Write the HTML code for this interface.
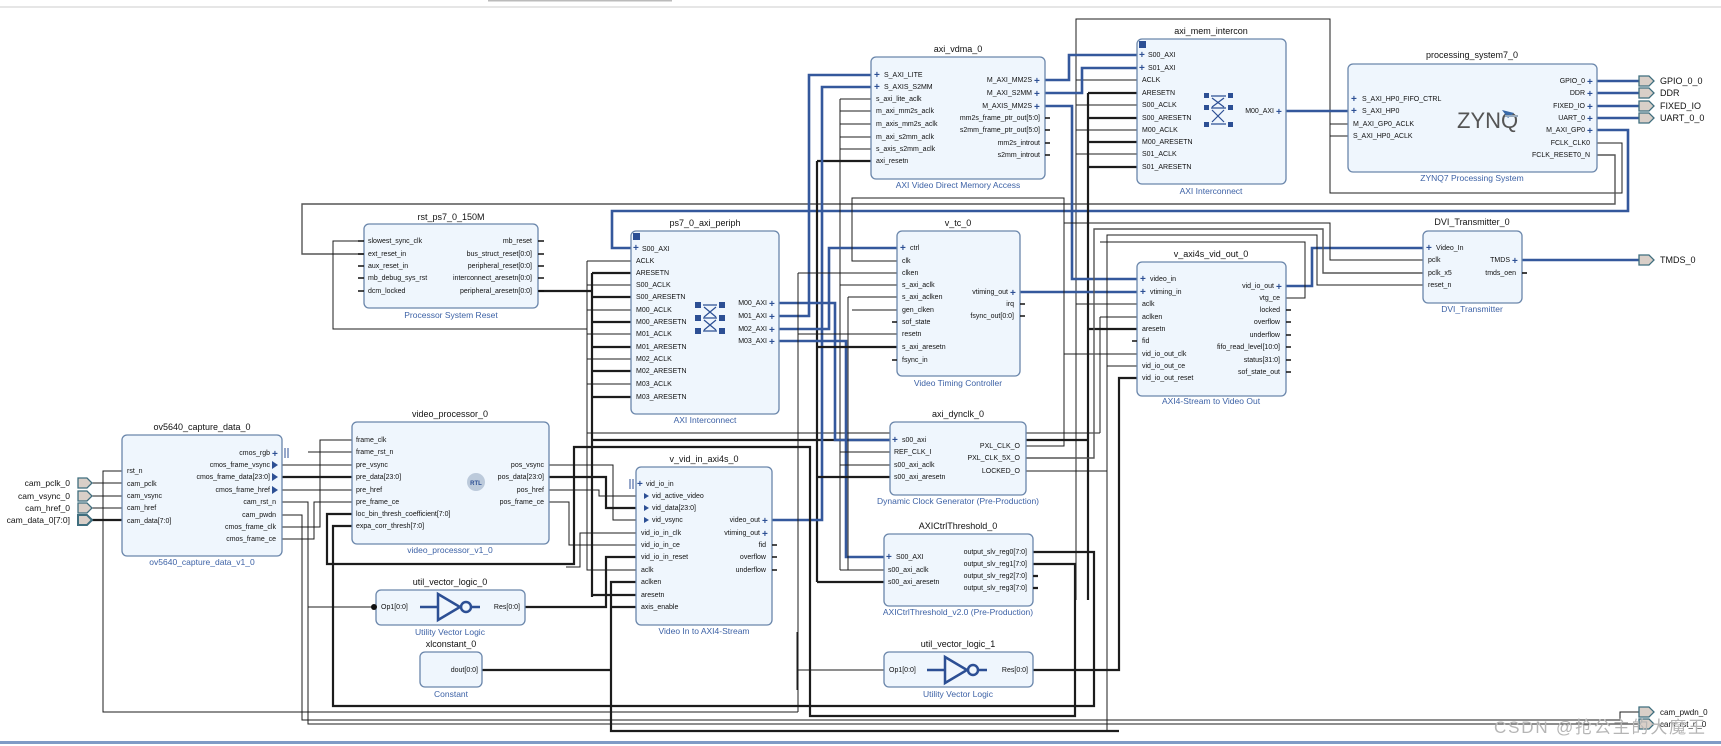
<!DOCTYPE html>
<html><head><meta charset="utf-8"><style>
html,body{margin:0;padding:0;background:#fff;}
svg{display:block}
.b{fill:#eff6fd;stroke:#6a86ab;stroke-width:1.3}
.t{font:9px "Liberation Sans",sans-serif;fill:#111;text-anchor:middle}
.s{font:8.5px "Liberation Sans",sans-serif;fill:#3d62a6;text-anchor:middle}
.p{font:7px "Liberation Sans",sans-serif;fill:#111}
.r{text-anchor:end}
.w{stroke:#1c1c1c;stroke-width:1;fill:none}
.g{stroke:#555;stroke-width:1.4;fill:none}
.W{stroke:#1c1c1c;stroke-width:2.2;fill:none}
.bl{stroke:#34589c;stroke-width:2.6;fill:none}
.pl{font:bold 10px "Liberation Sans",sans-serif;fill:#2c4f94}
.ext{fill:#d9cfc8;stroke:#3f6e7e;stroke-width:1.3}
.st{stroke:#111;stroke-width:1.6;fill:none}
.ic{fill:#2c4f94}
</style></head><body>
<svg width="1721" height="746" viewBox="0 0 1721 746" xmlns="http://www.w3.org/2000/svg">
<rect x="0" y="0" width="1721" height="746" fill="#fff"/>
<line x1="0" y1="7" x2="1721" y2="7" stroke="#ddd" stroke-width="1.5"/>
<rect x="488" y="0" width="184" height="1.5" fill="#bbb"/>
<rect x="0" y="741" width="1721" height="3" fill="#7f9bc6"/>

<g>
<path class="w" d="M1596,143 H1622 V193 H1330 V19 H1076 V600"/>
<path class="g" d="M1596,155 H1615 V204 H302 V254 H364"/>
<path class="bl" d="M1597,130 H1628 V211 H612 V248 H631"/>
<path class="w" d="M364,241 H333 V329 H587"/>
<path class="w" d="M587,261 V440 M587,261 H631 M587,285 H631 M587,310 H631 M587,334 H631 M587,359 H631 M587,384 H631"/>
<path class="W" d="M538,291 H592 M592,273 V597 M592,273 H631 M592,297 H631 M592,322 H631 M592,347 H631 M592,371 H631 M592,397 H631"/>
<path class="w" d="M587,433 H1100"/>
<path class="W" d="M592,440 H1088"/>
<path class="w" d="M840,99 V570 M840,99 H871 M840,111 H871 M840,124 H871 M840,137 H871 M840,149 H871"/>
<path class="W" d="M817,161 V582 M817,161 H871"/>
<path class="w" d="M1076,80 H1137 M1076,105 H1137 M1076,130 H1137 M1076,154 H1137"/>
<path class="W" d="M1088,93 V600 M1088,93 H1137 M1088,118 H1137 M1088,142 H1137 M1088,167 H1137"/>
<path class="w" d="M1330,124 H1348 M1330,136 H1348 M1330,124 V193"/>
<path class="bl" d="M1045,80 H1069 V55 H1137"/>
<path class="bl" d="M1045,93 H1082 V68 H1137"/>
<path class="bl" d="M1045,106 H1072 V279 H1137"/>
<path class="bl" d="M1286,111 H1348"/>
<path class="bl" d="M779,303 H835 V440 H890"/>
<path class="bl" d="M779,316 H809 V75 H871"/>
<path class="bl" d="M779,329 H829 V248 H897"/>
<path class="bl" d="M779,341 H846 V557 H884"/>
<path class="bl" d="M772,520 H822 V87 H871"/>
<path class="bl" d="M1020,292 H1137"/>
<path class="w" d="M1026,446 H1064 V198 H852 V261 H897"/>
<path class="w" d="M798,273 V712 M798,273 H897 M798,334 H897"/>
<path class="w" d="M840,285 H897 M848,297 H897 M848,297 V570 M852,310 H897"/>
<path class="W" d="M817,347 H897"/>
<path class="w" d="M1076,304 H1137 M1100,317 H1137 M1100,317 V433"/>
<path class="W" d="M1088,329 H1137"/>
<path class="w" d="M1064,354 H1137 M1107,366 H1137"/>
<path class="W" d="M1033,670 H1119 V378 H1137"/>
<path class="bl" d="M1286,286 H1312 V248 H1423"/>
<path class="w" d="M1423,260 H1330 V223 H1064"/>
<path class="g" d="M1423,273 H1323 V229 H1094 V458 H1026"/>
<path class="w" d="M1423,285 H1317 V235 H1107 V471 H1026"/>
<path class="w" d="M1286,298 H1305 V242 H1100"/>
<path class="bl" d="M1522,260 H1639"/>
<path class="bl" d="M1597,81 H1639 M1597,93 H1639 M1597,106 H1639 M1597,118 H1639"/>
<path class="w" d="M840,452 H890 M840,465 H890 M840,570 H884"/>
<path class="W" d="M817,477 H890 M817,582 H884"/>
<path class="W" d="M1033,552 H1094 V706 H333 V526 H352"/>
<path class="W" d="M1033,564 H1075 V716 H810 V447 H574 V564 H327 V514 H352"/>
<path class="w" d="M282,465 H352 M282,490 H352"/>
<path class="W" d="M282,477 H352"/>
<path class="w" d="M282,527 H320 V440 H352 M282,539 H314 V502 H352"/>
<path class="w" d="M282,502 H308 V724 H1639 M308,452 H352 M308,607 H376"/>
<path class="w" d="M282,515 H302 V720 H1620 V712 H1639"/>
<path class="w" d="M122,471 H103 V712 H798"/>
<path class="w" d="M91,483 H122 M91,496 H122 M91,508 H122"/>
<path class="W" d="M91,520 H122"/>
<path class="w" d="M549,465 H613 V520 H636 M549,490 H599 V496 H636 M549,502 H569 V545 H636"/>
<path class="W" d="M549,477 H606 V508 H636"/>
<path class="W" d="M525,607 H606 V557 H636"/>
<path class="w" d="M636,533 H580 V567 H566"/>
<path class="w" d="M587,440 V570 H636"/>
<path class="W" d="M592,595 H636"/>
<path class="W" d="M482,670 H611 V582 H636 M611,607 H636 M611,670 V731 H1119"/>
<path class="w" d="M797,632 V690 M797,670 H884"/>
<path class="w" d="M1107,366 V731"/>
</g>

<rect class="b" x="364" y="224" width="174" height="84" rx="5"/>
<text class="t" x="451" y="220">rst_ps7_0_150M</text>
<text class="s" x="451" y="318">Processor System Reset</text>
<path class="st" d="M358,241h6 M358,254h6 M358,266h6 M358,278h6 M358,291h6 M538,241h6 M538,254h6 M538,266h6 M538,278h6 M538,291h6"/>
<text class="p" x="368" y="243">slowest_sync_clk</text>
<text class="p" x="368" y="256">ext_reset_in</text>
<text class="p" x="368" y="268">aux_reset_in</text>
<text class="p" x="368" y="280">mb_debug_sys_rst</text>
<text class="p" x="368" y="293">dcm_locked</text>
<text class="p r" x="532" y="243">mb_reset</text>
<text class="p r" x="532" y="256">bus_struct_reset[0:0]</text>
<text class="p r" x="532" y="268">peripheral_reset[0:0]</text>
<text class="p r" x="532" y="280">interconnect_aresetn[0:0]</text>
<text class="p r" x="532" y="293">peripheral_aresetn[0:0]</text>

<rect class="b" x="631" y="231" width="148" height="183" rx="5"/>
<text class="t" x="705" y="226">ps7_0_axi_periph</text>
<text class="s" x="705" y="423">AXI Interconnect</text>
<rect x="633" y="233" width="7" height="7" class="ic"/>
<text class="pl" x="633" y="251">+</text>
<text class="p" x="642" y="251">S00_AXI</text>
<text class="p" x="636" y="263">ACLK</text>
<text class="p" x="636" y="275">ARESETN</text>
<text class="p" x="636" y="287">S00_ACLK</text>
<text class="p" x="636" y="299">S00_ARESETN</text>
<text class="p" x="636" y="312">M00_ACLK</text>
<text class="p" x="636" y="324">M00_ARESETN</text>
<text class="p" x="636" y="336">M01_ACLK</text>
<text class="p" x="636" y="349">M01_ARESETN</text>
<text class="p" x="636" y="361">M02_ACLK</text>
<text class="p" x="636" y="373">M02_ARESETN</text>
<text class="p" x="636" y="386">M03_ACLK</text>
<text class="p" x="636" y="399">M03_ARESETN</text>
<text class="p r" x="767" y="305">M00_AXI</text><text class="pl" x="769" y="307">+</text>
<text class="p r" x="767" y="318">M01_AXI</text><text class="pl" x="769" y="320">+</text>
<text class="p r" x="767" y="331">M02_AXI</text><text class="pl" x="769" y="333">+</text>
<text class="p r" x="767" y="343">M03_AXI</text><text class="pl" x="769" y="345">+</text>
<g class="ic"><rect x="695" y="302" width="6" height="6"/><rect x="719" y="302" width="6" height="6"/><rect x="695" y="315" width="6" height="6"/><rect x="719" y="315" width="6" height="6"/><rect x="695" y="328" width="6" height="6"/><rect x="719" y="328" width="6" height="6"/></g>
<path d="M703,305h14 M703,318h14 M703,331h14 M704,307l12,10 M716,307l-12,10 M704,320l12,10 M716,320l-12,10" stroke="#2c4f94" stroke-width="1.2"/>

<rect class="b" x="871" y="57" width="174" height="122" rx="5"/>
<text class="t" x="958" y="52">axi_vdma_0</text>
<text class="s" x="958" y="188">AXI Video Direct Memory Access</text>
<text class="pl" x="874" y="78">+</text><text class="p" x="884" y="77">S_AXI_LITE</text>
<text class="pl" x="874" y="90">+</text><text class="p" x="884" y="89">S_AXIS_S2MM</text>
<text class="p" x="876" y="101">s_axi_lite_aclk</text>
<text class="p" x="876" y="113">m_axi_mm2s_aclk</text>
<text class="p" x="876" y="126">m_axis_mm2s_aclk</text>
<text class="p" x="876" y="139">m_axi_s2mm_aclk</text>
<text class="p" x="876" y="151">s_axis_s2mm_aclk</text>
<text class="p" x="876" y="163">axi_resetn</text>
<text class="p r" x="1032" y="82">M_AXI_MM2S</text><text class="pl" x="1034" y="84">+</text>
<text class="p r" x="1032" y="95">M_AXI_S2MM</text><text class="pl" x="1034" y="97">+</text>
<text class="p r" x="1032" y="108">M_AXIS_MM2S</text><text class="pl" x="1034" y="110">+</text>
<text class="p r" x="1040" y="120">mm2s_frame_ptr_out[5:0]</text>
<text class="p r" x="1040" y="132">s2mm_frame_ptr_out[5:0]</text>
<text class="p r" x="1040" y="145">mm2s_introut</text>
<text class="p r" x="1040" y="157">s2mm_introut</text>
<path class="st" d="M1045,118h5 M1045,130h5 M1045,143h5 M1045,155h5"/>

<rect class="b" x="1137" y="39" width="149" height="145" rx="5"/>
<text class="t" x="1211" y="34">axi_mem_intercon</text>
<text class="s" x="1211" y="194">AXI Interconnect</text>
<rect x="1139" y="41" width="7" height="7" class="ic"/>
<text class="pl" x="1139" y="58">+</text><text class="p" x="1148" y="57">S00_AXI</text>
<text class="pl" x="1139" y="71">+</text><text class="p" x="1148" y="70">S01_AXI</text>
<text class="p" x="1142" y="82">ACLK</text>
<text class="p" x="1142" y="95">ARESETN</text>
<text class="p" x="1142" y="107">S00_ACLK</text>
<text class="p" x="1142" y="120">S00_ARESETN</text>
<text class="p" x="1142" y="132">M00_ACLK</text>
<text class="p" x="1142" y="144">M00_ARESETN</text>
<text class="p" x="1142" y="156">S01_ACLK</text>
<text class="p" x="1142" y="169">S01_ARESETN</text>
<text class="p r" x="1274" y="113">M00_AXI</text><text class="pl" x="1276" y="115">+</text>
<g class="ic"><rect x="1204" y="93" width="5" height="5"/><rect x="1228" y="93" width="5" height="5"/><rect x="1204" y="105" width="5" height="5"/><rect x="1228" y="105" width="5" height="5"/><rect x="1204" y="122" width="5" height="5"/><rect x="1228" y="122" width="5" height="5"/></g>
<path d="M1211,96h15 M1211,108h15 M1211,124h15 M1212,98l12,9 M1224,98l-12,9 M1212,110l12,12 M1224,110l-12,12" stroke="#2c4f94" stroke-width="1.2"/>

<rect class="b" x="1348" y="64" width="249" height="108" rx="5"/>
<text class="t" x="1472" y="58">processing_system7_0</text>
<text class="s" x="1472" y="181">ZYNQ7 Processing System</text>
<text class="pl" x="1351" y="102">+</text><text class="p" x="1362" y="101">S_AXI_HP0_FIFO_CTRL</text>
<text class="pl" x="1351" y="114">+</text><text class="p" x="1362" y="113">S_AXI_HP0</text>
<text class="p" x="1353" y="126">M_AXI_GP0_ACLK</text>
<text class="p" x="1353" y="138">S_AXI_HP0_ACLK</text>
<text x="1457" y="128" style="font:22px 'Liberation Sans',sans-serif;fill:#555">ZYNQ</text>
<path d="M1502,110 l12,3 l-6,5z" fill="#3a6aa8"/><path d="M1505,116 h13" stroke="#9ab" stroke-width="2"/>
<text class="p r" x="1585" y="83">GPIO_0</text><text class="pl" x="1587" y="85">+</text>
<text class="p r" x="1585" y="95">DDR</text><text class="pl" x="1587" y="97">+</text>
<text class="p r" x="1585" y="108">FIXED_IO</text><text class="pl" x="1587" y="110">+</text>
<text class="p r" x="1585" y="120">UART_0</text><text class="pl" x="1587" y="122">+</text>
<text class="p r" x="1585" y="132">M_AXI_GP0</text><text class="pl" x="1587" y="134">+</text>
<text class="p r" x="1590" y="145">FCLK_CLK0</text>
<text class="p r" x="1590" y="157">FCLK_RESET0_N</text>

<g>
<path class="ext" d="M1639,76h10l5,5l-5,5h-10z"/><text class="p" x="1660" y="84" style="font-size:9px">GPIO_0_0</text>
<path class="ext" d="M1639,88h10l5,5l-5,5h-10z"/><text class="p" x="1660" y="96" style="font-size:9px">DDR</text>
<path class="ext" d="M1639,101h10l5,5l-5,5h-10z"/><text class="p" x="1660" y="109" style="font-size:9px">FIXED_IO</text>
<path class="ext" d="M1639,113h10l5,5l-5,5h-10z"/><text class="p" x="1660" y="121" style="font-size:9px">UART_0_0</text>
<path class="ext" d="M1639,255h10l5,5l-5,5h-10z"/><text class="p" x="1660" y="263" style="font-size:9px">TMDS_0</text>
<path class="ext" d="M1639,707h10l5,5l-5,5h-10z"/><text class="p" x="1660" y="715" style="font-size:8px">cam_pwdn_0</text>
<path class="ext" d="M1639,719h10l5,5l-5,5h-10z"/><text class="p" x="1660" y="727" style="font-size:8px">cam_rst_n_0</text>
</g>

<rect class="b" x="897" y="231" width="123" height="145" rx="5"/>
<text class="t" x="958" y="226">v_tc_0</text>
<text class="s" x="958" y="386">Video Timing Controller</text>
<text class="pl" x="900" y="251">+</text><text class="p" x="910" y="250">ctrl</text>
<text class="p" x="902" y="263">clk</text>
<text class="p" x="902" y="275">clken</text>
<text class="p" x="902" y="287">s_axi_aclk</text>
<text class="p" x="902" y="299">s_axi_aclken</text>
<text class="p" x="902" y="312">gen_clken</text>
<text class="p" x="902" y="324">sof_state</text>
<text class="p" x="902" y="336">resetn</text>
<text class="p" x="902" y="349">s_axi_aresetn</text>
<text class="p" x="902" y="362">fsync_in</text>
<text class="p r" x="1008" y="294">vtiming_out</text><text class="pl" x="1010" y="296">+</text>
<text class="p r" x="1014" y="306">irq</text>
<text class="p r" x="1014" y="318">fsync_out[0:0]</text>
<path class="st" d="M892,322h5 M892,360h5 M1020,304h5 M1020,316h5"/>

<rect class="b" x="1137" y="262" width="149" height="134" rx="5"/>
<text class="t" x="1211" y="257">v_axi4s_vid_out_0</text>
<text class="s" x="1211" y="404">AXI4-Stream to Video Out</text>
<text class="pl" x="1140" y="282">+</text><text class="p" x="1150" y="281">video_in</text>
<text class="pl" x="1140" y="295">+</text><text class="p" x="1150" y="294">vtiming_in</text>
<text class="p" x="1142" y="306">aclk</text>
<text class="p" x="1142" y="319">aclken</text>
<text class="p" x="1142" y="331">aresetn</text>
<text class="p" x="1142" y="343">fid</text>
<text class="p" x="1142" y="356">vid_io_out_clk</text>
<text class="p" x="1142" y="368">vid_io_out_ce</text>
<text class="p" x="1142" y="380">vid_io_out_reset</text>
<text class="p r" x="1274" y="288">vid_io_out</text><text class="pl" x="1276" y="290">+</text>
<text class="p r" x="1280" y="300">vtg_ce</text>
<text class="p r" x="1280" y="312">locked</text>
<text class="p r" x="1280" y="324">overflow</text>
<text class="p r" x="1280" y="337">underflow</text>
<text class="p r" x="1280" y="349">fifo_read_level[10:0]</text>
<text class="p r" x="1280" y="362">status[31:0]</text>
<text class="p r" x="1280" y="374">sof_state_out</text>
<path class="st" d="M1132,341h5 M1286,310h5 M1286,322h5 M1286,335h5 M1286,347h5 M1286,360h5 M1286,372h5"/>

<rect class="b" x="1423" y="231" width="99" height="72" rx="5"/>
<text class="t" x="1472" y="225">DVI_Transmitter_0</text>
<text class="s" x="1472" y="312">DVI_Transmitter</text>
<text class="pl" x="1426" y="251">+</text><text class="p" x="1436" y="250">Video_In</text>
<text class="p" x="1428" y="262">pclk</text>
<text class="p" x="1428" y="275">pclk_x5</text>
<text class="p" x="1428" y="287">reset_n</text>
<text class="p r" x="1510" y="262">TMDS</text><text class="pl" x="1512" y="264">+</text>
<text class="p r" x="1516" y="275">tmds_oen</text>
<path class="st" d="M1522,273h5"/>

<rect class="b" x="122" y="435" width="160" height="121" rx="5"/>
<text class="t" x="202" y="430">ov5640_capture_data_0</text>
<text class="s" x="202" y="565">ov5640_capture_data_v1_0</text>
<text class="p" x="127" y="473">rst_n</text>
<text class="p" x="127" y="486">cam_pclk</text>
<text class="p" x="127" y="498">cam_vsync</text>
<text class="p" x="127" y="510">cam_href</text>
<text class="p" x="127" y="523">cam_data[7:0]</text>
<text class="p r" x="270" y="455">cmos_rgb</text><text class="pl" x="272" y="457">+</text>
<text class="p r" x="270" y="467">cmos_frame_vsync</text><path d="M272,461l6,4l-6,4z" class="ic"/>
<text class="p r" x="270" y="479">cmos_frame_data[23:0]</text><path d="M272,473l6,4l-6,4z" class="ic"/>
<text class="p r" x="270" y="492">cmos_frame_href</text><path d="M272,486l6,4l-6,4z" class="ic"/>
<text class="p r" x="276" y="504">cam_rst_n</text>
<text class="p r" x="276" y="517">cam_pwdn</text>
<text class="p r" x="276" y="529">cmos_frame_clk</text>
<text class="p r" x="276" y="541">cmos_frame_ce</text>
<path d="M285,448v10 M288,448v10" stroke="#2c4f94" stroke-width="1"/>
<g>
<path class="ext" d="M78,478h9l5,5l-5,5h-9z"/><text class="p r" x="70" y="486" style="font-size:8.5px">cam_pclk_0</text>
<path class="ext" d="M78,491h9l5,5l-5,5h-9z"/><text class="p r" x="70" y="499" style="font-size:8.5px">cam_vsync_0</text>
<path class="ext" d="M78,503h9l5,5l-5,5h-9z"/><text class="p r" x="70" y="511" style="font-size:8.5px">cam_href_0</text>
<path class="ext" d="M78,515h9l5,5l-5,5h-9z" style="stroke-width:2"/><text class="p r" x="70" y="523" style="font-size:8.5px">cam_data_0[7:0]</text>
</g>

<rect class="b" x="352" y="422" width="197" height="122" rx="5"/>
<text class="t" x="450" y="417">video_processor_0</text>
<text class="s" x="450" y="553">video_processor_v1_0</text>
<text class="p" x="356" y="442">frame_clk</text>
<text class="p" x="356" y="454">frame_rst_n</text>
<text class="p" x="356" y="467">pre_vsync</text>
<text class="p" x="356" y="479">pre_data[23:0]</text>
<text class="p" x="356" y="492">pre_href</text>
<text class="p" x="356" y="504">pre_frame_ce</text>
<text class="p" x="356" y="516">loc_bin_thresh_coefficient[7:0]</text>
<text class="p" x="356" y="528">expa_corr_thresh[7:0]</text>
<text class="p r" x="544" y="467">pos_vsync</text>
<text class="p r" x="544" y="479">pos_data[23:0]</text>
<text class="p r" x="544" y="492">pos_href</text>
<text class="p r" x="544" y="504">pos_frame_ce</text>
<circle cx="476" cy="482" r="9" fill="#bccadb"/>
<text x="476" y="485" style="font:bold 6px 'Liberation Sans',sans-serif;fill:#2c4f94;text-anchor:middle">RTL</text>

<rect class="b" x="636" y="467" width="136" height="158" rx="5"/>
<text class="t" x="704" y="462">v_vid_in_axi4s_0</text>
<text class="s" x="704" y="634">Video In to AXI4-Stream</text>
<path d="M630,479v10 M633,479v10" stroke="#2c4f94" stroke-width="1"/>
<text class="pl" x="637" y="487">+</text><text class="p" x="646" y="486">vid_io_in</text>
<path d="M644,493l5,3l-5,3z" class="ic"/><text class="p" x="652" y="498">vid_active_video</text>
<path d="M644,505l5,3l-5,3z" class="ic"/><text class="p" x="652" y="510">vid_data[23:0]</text>
<path d="M644,517l5,3l-5,3z" class="ic"/><text class="p" x="652" y="522">vid_vsync</text>
<text class="p" x="641" y="535">vid_io_in_clk</text>
<text class="p" x="641" y="547">vid_io_in_ce</text>
<text class="p" x="641" y="559">vid_io_in_reset</text>
<text class="p" x="641" y="572">aclk</text>
<text class="p" x="641" y="584">aclken</text>
<text class="p" x="641" y="597">aresetn</text>
<text class="p" x="641" y="609">axis_enable</text>
<text class="p r" x="760" y="522">video_out</text><text class="pl" x="762" y="524">+</text>
<text class="p r" x="760" y="535">vtiming_out</text><text class="pl" x="762" y="537">+</text>
<text class="p r" x="766" y="547">fid</text>
<text class="p r" x="766" y="559">overflow</text>
<text class="p r" x="766" y="572">underflow</text>
<path class="st" d="M772,545h5 M772,557h5 M772,570h5"/>

<rect class="b" x="376" y="590" width="149" height="35" rx="5"/>
<text class="t" x="450" y="585">util_vector_logic_0</text>
<text class="s" x="450" y="635">Utility Vector Logic</text>
<circle cx="374" cy="607" r="3" fill="#111"/>
<text class="p" x="381" y="609">Op1[0:0]</text>
<text class="p r" x="520" y="609">Res[0:0]</text>
<path d="M420,607h18 M438,594v26l22,-13z M472,607h8" stroke="#2c4f94" stroke-width="2.5" fill="none"/>
<circle cx="466" cy="607" r="5" fill="none" stroke="#2c4f94" stroke-width="2.5"/>

<rect class="b" x="420" y="652" width="62" height="35" rx="5"/>
<text class="t" x="451" y="647">xlconstant_0</text>
<text class="s" x="451" y="697">Constant</text>
<text class="p r" x="478" y="672">dout[0:0]</text>

<rect class="b" x="890" y="422" width="136" height="73" rx="5"/>
<text class="t" x="958" y="417">axi_dynclk_0</text>
<text class="s" x="958" y="504">Dynamic Clock Generator (Pre-Production)</text>
<text class="pl" x="892" y="443">+</text><text class="p" x="902" y="442">s00_axi</text>
<text class="p" x="894" y="454">REF_CLK_I</text>
<text class="p" x="894" y="467">s00_axi_aclk</text>
<text class="p" x="894" y="479">s00_axi_aresetn</text>
<text class="p r" x="1020" y="448">PXL_CLK_O</text>
<text class="p r" x="1020" y="460">PXL_CLK_5X_O</text>
<text class="p r" x="1020" y="473">LOCKED_O</text>

<rect class="b" x="884" y="534" width="149" height="72" rx="5"/>
<text class="t" x="958" y="529">AXICtrlThreshold_0</text>
<text class="s" x="958" y="615">AXICtrlThreshold_v2.0 (Pre-Production)</text>
<text class="pl" x="886" y="560">+</text><text class="p" x="896" y="559">S00_AXI</text>
<text class="p" x="888" y="572">s00_axi_aclk</text>
<text class="p" x="888" y="584">s00_axi_aresetn</text>
<text class="p r" x="1027" y="554">output_slv_reg0[7:0]</text>
<text class="p r" x="1027" y="566">output_slv_reg1[7:0]</text>
<text class="p r" x="1027" y="578">output_slv_reg2[7:0]</text>
<text class="p r" x="1027" y="590">output_slv_reg3[7:0]</text>
<path class="W" d="M1033,576h5 M1033,588h5"/>

<rect class="b" x="884" y="652" width="149" height="35" rx="5"/>
<text class="t" x="958" y="647">util_vector_logic_1</text>
<text class="s" x="958" y="697">Utility Vector Logic</text>
<text class="p" x="889" y="672">Op1[0:0]</text>
<text class="p r" x="1028" y="672">Res[0:0]</text>
<path d="M927,670h18 M945,657v26l22,-13z M979,670h8" stroke="#2c4f94" stroke-width="2.5" fill="none"/>
<circle cx="973" cy="670" r="5" fill="none" stroke="#2c4f94" stroke-width="2.5"/>

<text x="1494" y="733" textLength="211" style="font:17px 'Liberation Sans','Noto Sans CJK SC',sans-serif;fill:#b5b5b5">CSDN @抢公主的大魔王</text>
</svg>
</body></html>
